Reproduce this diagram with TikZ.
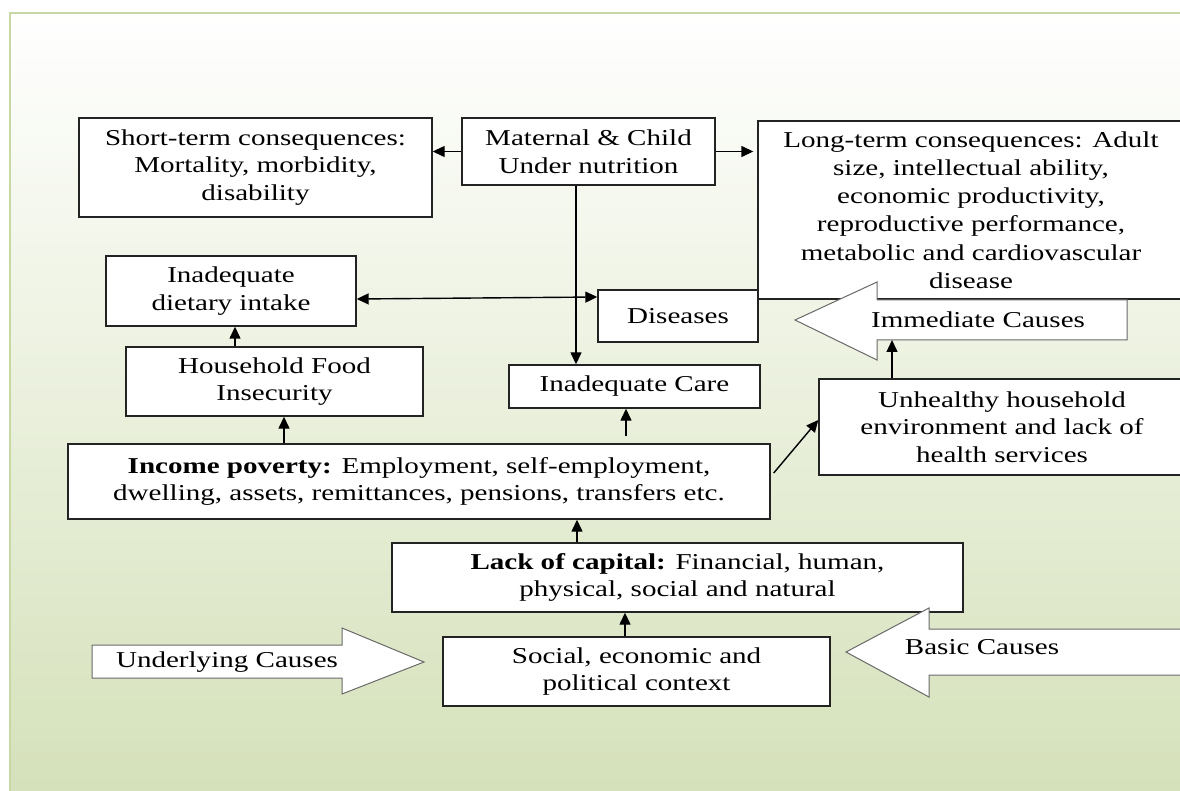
\documentclass[tikz,border=0pt]{standalone}
\usepackage{fontspec}
\setmainfont{Liberation Serif}[FakeStretch=1.28]
\usetikzlibrary{arrows.meta}
\definecolor{bggreen}{RGB}{213,225,186}
\definecolor{framegreen}{RGB}{198,216,164}
\definecolor{boxline}{RGB}{35,35,35}
\definecolor{bigarrow}{RGB}{105,105,105}

\begin{document}
\begin{tikzpicture}[x=1pt,y=-1pt,>={Triangle[length=12pt,width=11pt]},
  every node/.style={font=\fontsize{22.7}{27.5}\selectfont},
  box/.style={draw=boxline,fill=white,line width=1.4pt,align=center,inner sep=0pt},
  causearrow/.style={draw=bigarrow,fill=white,line width=1pt},
  every path/.append style={line width=1.4pt}]
  \useasboundingbox (0,0) rectangle (1180,791);
  \shade[top color=white,bottom color=bggreen] (10,13) rectangle (1180,791);
  \draw[framegreen,line width=2pt] (10,791) -- (10,13) -- (1180,13);

  \node[box,minimum width=353,minimum height=99] (short) at (255.5,167.5)
    {Short-term consequences:\\Mortality, morbidity,\\disability};
  \node[box,minimum width=253,minimum height=67] (mat) at (588.5,151.5)
    {Maternal \& Child\\Under nutrition};
  \node[box,minimum width=426,minimum height=178,font=\fontsize{22.7}{28.2}\selectfont] (longt) at (971,210)
    {Long-term consequences: Adult\\size, intellectual ability,\\economic productivity,\\reproductive performance,\\metabolic and cardiovascular\\disease};
  \node[box,minimum width=250,minimum height=70] (diet) at (231,291)
    {Inadequate\\dietary intake};
  \node[box,minimum width=160,minimum height=52] (dis) at (678,316) {Diseases};
  \node[box,minimum width=297,minimum height=69] (food) at (274.5,381.5)
    {Household Food\\Insecurity};
  \node[box,minimum width=251,minimum height=43] (care) at (634.5,386.5) {Inadequate Care};
  \node[box,minimum width=366,minimum height=96] (env) at (1002,427)
    {Unhealthy household\\environment and lack of\\health services};
  \node[box,minimum width=702,minimum height=75] (inc) at (419,481.5)
    {\textbf{Income poverty:} Employment, self-employment,\\dwelling, assets, remittances, pensions, transfers etc.};
  \node[box,minimum width=571,minimum height=69] (cap) at (677.5,577.5)
    {\textbf{Lack of capital:} Financial, human,\\physical, social and natural};
  \node[box,minimum width=387,minimum height=69] (ctx) at (636.5,671.5)
    {Social, economic and\\political context};

  \draw[causearrow] (1127,300) -- (877,300) -- (877,282) -- (795,320) -- (877,360) -- (877,340) -- (1127,340) -- cycle;
  \node (imm) at (978,320) {Immediate Causes};
  \coordinate (immbase) at (892,340);
  \draw[causearrow] (92,645) -- (342,645) -- (342,628) -- (424,662) -- (342,694) -- (342,678) -- (92,678) -- cycle;
  \node (under) at (227,662) {Underlying Causes};
  \draw[causearrow] (1195,629) -- (929,629) -- (929,608) -- (846,652) -- (929,697) -- (929,675) -- (1195,675) -- cycle;
  \node (basic) at (982,647) {Basic Causes};

  \coordinate (drop) at (576,0);
  \draw[->] (mat.west) -- (mat.west -| short.east);
  \draw[->] (mat.east) -- ([xshift=-4pt]mat.east -| longt.west);
  \draw[->] (mat.south -| drop) -- (care.north -| drop);
  \draw[<->] ([yshift=-8pt]diet.east) -- ([yshift=19pt]dis.west);
  \draw[->] ([xshift=-39.5pt]food.north) -- ([xshift=4pt]diet.south);
  \draw[->] ([xshift=-135pt]inc.north) -- ([xshift=9.5pt]food.south);
  \draw[->,shorten <=7pt] ([xshift=207pt]inc.north) -- ([xshift=-8.5pt]care.south);
  \draw[->] ([xshift=3pt,yshift=8.5pt]inc.east) -- ([yshift=7pt]env.west);
  \draw[->] ([xshift=-110pt]env.north) -- (immbase);
  \draw[->] ([xshift=-100.5pt]cap.north) -- ([xshift=158pt]inc.south);
  \draw[->] ([xshift=-11.5pt]ctx.north) -- ([xshift=-52.5pt]cap.south);
\end{tikzpicture}
\end{document}
